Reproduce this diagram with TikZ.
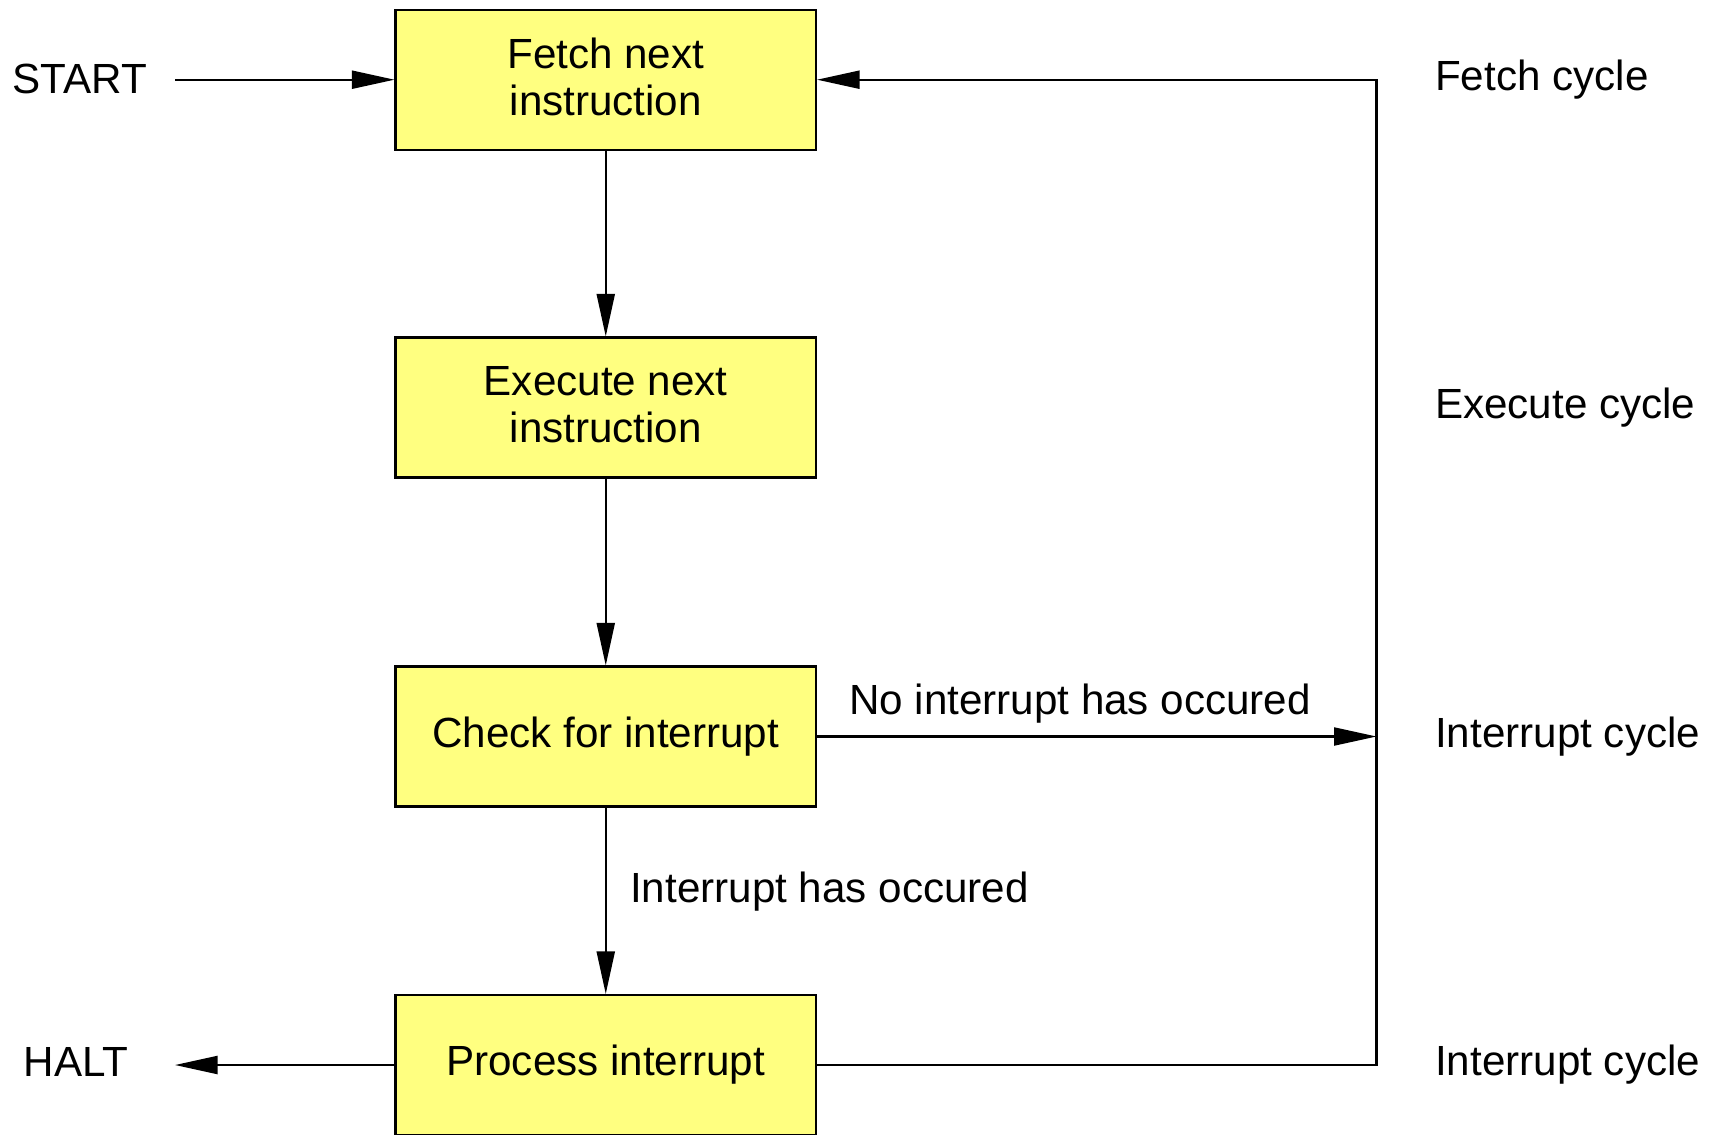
\documentclass[tikz,border=0pt]{standalone}
\usepackage{fontspec}
\setmainfont{Liberation Sans}
\definecolor{cyclefill}{HTML}{FFFF80}
\usetikzlibrary{arrows.meta, positioning}

\begin{document}
\begin{tikzpicture}[
  every node/.style={font=\fontsize{24}{27}\selectfont},
  stage/.style={draw, line width=1.2pt, fill=cyclefill, minimum width=8.41cm,
                minimum height=2.8cm, align=center},
  flow/.style={-{Triangle[length=0.85cm, width=0.36cm]}, line width=1.2pt},
  cyclelabel/.style={anchor=west},
]
  \useasboundingbox (0,0) rectangle (34.26,-22.68);

  % the four stages
  \node[stage] (fetch) at (12.115,-1.594) {Fetch next\\instruction\vspace*{3pt}};
  \node[stage] (exec)  at (12.115,-8.15)  {Execute next\\instruction\vspace*{3pt}};
  \node[stage] (check) at (12.115,-14.73) {Check for interrupt};
  \node[stage] (proc)  at (12.115,-21.3)  {Process interrupt};

  % start and halt
  \node (start) at (1.6,-1.574) {START};
  \node (halt)  at (1.52,-21.24) {HALT};
  \coordinate (startend) at (3.5,-1.594);
  \coordinate (haltend)  at (3.5,-21.3);
  \coordinate (rail) at (27.53,0);

  % cycle names
  \node[cyclelabel] (lfetch) at (28.58,-1.594) {Fetch cycle};
  \node[cyclelabel] (lexec)  at (28.58,-8.15)  {Execute cycle};
  \node[cyclelabel] (lcheck) at (28.58,-14.73) {Interrupt cycle};
  \node[cyclelabel] (lproc)  at (28.58,-21.3)  {Interrupt cycle};

  \draw[flow] (startend) -- (fetch.west);
  \draw[flow] (fetch) -- (exec);
  \draw[flow] (exec) -- (check);
  \draw[flow] (check) -- node[right, pos=0.45, xshift=10pt] (yes) {Interrupt has occured} (proc);
  \draw[flow] (check.east) -- node[above, pos=0.47, yshift=3.5pt] (no) {No interrupt has occured} (check.east -| rail);
  \draw[flow] (proc.west) -- (haltend);
  \draw[flow] (proc.east) -- (proc.east -| rail) |- (fetch.east);
\end{tikzpicture}
\end{document}
